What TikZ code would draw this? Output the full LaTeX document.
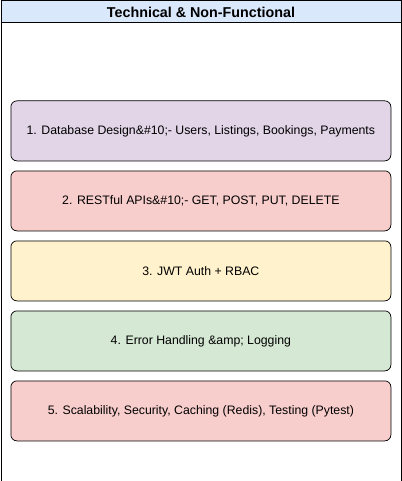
\documentclass[tikz,border=0pt]{standalone}
\usepackage{fontspec}
\setmainfont{Liberation Sans}
\definecolor{titlefill}{HTML}{DAE8FC}
\definecolor{purplefill}{HTML}{E1D5E7}
\definecolor{redfill}{HTML}{F8CECC}
\definecolor{yellowfill}{HTML}{FFF2CC}
\definecolor{greenfill}{HTML}{D5E8D4}
\tikzset{
  itembox/.style={draw=black, line width=0.75pt, rounded corners=6pt, minimum width=380pt, minimum height=60pt, inner sep=0pt, font=\fontsize{12.3pt}{14pt}\selectfont, anchor=north west},
}
\begin{document}
\begin{tikzpicture}[x=1pt,y=-1pt]
\useasboundingbox (0,0) rectangle (401,481);
\node[draw=black, line width=1pt, fill=white, minimum width=400pt, minimum height=480pt, inner sep=0pt, anchor=north west] (frame) at (0.5,0.5) {};
\node[draw=black, line width=1pt, fill=titlefill, minimum width=400pt, minimum height=22pt, inner sep=0pt, anchor=north west, font=\bfseries\fontsize{14.3pt}{16pt}\selectfont] (title) at (0.5,0.5) {Technical \& Non-Functional};
\node[itembox, fill=purplefill] (b1) at (10.5,100.5) {1. Database Design\&\#10;- Users, Listings, Bookings, Payments};
\node[itembox, fill=redfill] (b2) at (10.5,170.5) {2. RESTful APIs\&\#10;- GET, POST, PUT, DELETE};
\node[itembox, fill=yellowfill] (b3) at (10.5,240.5) {3. JWT Auth + RBAC};
\node[itembox, fill=greenfill] (b4) at (10.5,310.5) {4. Error Handling \&amp; Logging};
\node[itembox, fill=redfill] (b5) at (10.5,380.5) {5. Scalability, Security, Caching (Redis), Testing (Pytest)};
\end{tikzpicture}
\end{document}
